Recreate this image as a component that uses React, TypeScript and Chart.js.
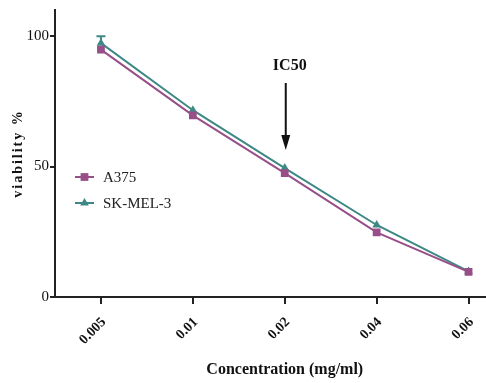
import React, { useEffect, useRef } from "react";
import { Chart, registerables } from "chart.js";

Chart.register(...registerables);

const categories = ["0.005", "0.01", "0.02", "0.04", "0.06"];
const a375 = [94.8, 69.6, 47.5, 24.8, 9.6];
const skmel3 = [97.3, 71.6, 49.4, 27.6, 9.8];
const a375Err = [0, 0, 0, 0, 0];
const skmel3Err = [2.6, 0, 0, 0, 0];
const yTicks = [0, 50, 100];
const seriesNames = ["A375", "SK-MEL-3"];
const colors = ["#984f88", "#3e8985"];
const FONT = "'Liberation Serif', 'Times New Roman', serif";

function drawPointLocal(ctx: CanvasRenderingContext2D, style: string, r: number, cx: number, cy: number, color: string) {
  ctx.fillStyle = color;
  ctx.beginPath();
  if (style === "rect") {
    const s = r * Math.SQRT1_2;
    ctx.rect(cx - s, cy - s, 2 * s, 2 * s);
  } else {
    ctx.moveTo(cx, cy - r);
    ctx.lineTo(cx + r * 0.866, cy + r * 0.5);
    ctx.lineTo(cx - r * 0.866, cy + r * 0.5);
    ctx.closePath();
  }
  ctx.fill();
}

const overlay = {
  id: "overlay",
  afterDatasetsDraw(chart: any) {
    const ctx = chart.ctx;
    const x = chart.scales.x;
    const y = chart.scales.y;
    const ca = chart.chartArea;
    ctx.save();
    // error bars
    const errs = [a375Err, skmel3Err];
    const vals = [a375, skmel3];
    errs.forEach((err, di) => {
      err.forEach((e, i) => {
        if (!e) return;
        const px = x.getPixelForValue(i);
        const py = y.getPixelForValue(vals[di][i]);
        const pt = y.getPixelForValue(vals[di][i] + e);
        ctx.strokeStyle = colors[di];
        ctx.lineWidth = 2;
        ctx.beginPath();
        ctx.moveTo(px, py);
        ctx.lineTo(px, pt);
        ctx.moveTo(px - 4.5, pt);
        ctx.lineTo(px + 4.5, pt);
        ctx.stroke();
      });
    });
    // IC50 annotation
    const ax = x.getPixelForValue(2) + 1;
    ctx.fillStyle = "#111";
    ctx.font = `bold 16px ${FONT}`;
    ctx.textAlign = "center";
    ctx.textBaseline = "middle";
    ctx.fillText("IC50", ax + 4, 66);
    ctx.strokeStyle = "#111";
    ctx.lineWidth = 2;
    ctx.beginPath();
    ctx.moveTo(ax, 83);
    ctx.lineTo(ax, 138);
    ctx.stroke();
    ctx.beginPath();
    ctx.moveTo(ax - 4.5, 135);
    ctx.lineTo(ax + 4.5, 135);
    ctx.lineTo(ax, 150);
    ctx.closePath();
    ctx.fill();
    // legend
    const legY = [177, 203];
    const styles = ["rect", "triangle"];
    const radii = [5.5, 5];
    seriesNames.forEach((name, i) => {
      const ly = legY[i];
      ctx.strokeStyle = colors[i];
      ctx.lineWidth = 2;
      ctx.beginPath();
      ctx.moveTo(75, ly);
      ctx.lineTo(94, ly);
      ctx.stroke();
      drawPointLocal(ctx, styles[i], radii[i], 84.5, ly, colors[i]);
      ctx.fillStyle = "#222";
      ctx.font = `15px ${FONT}`;
      ctx.textAlign = "left";
      ctx.textBaseline = "middle";
      ctx.fillText(name, 103, ly + 1);
    });
    // axis titles
    ctx.fillStyle = "#111";
    ctx.font = `bold 16px ${FONT}`;
    ctx.textAlign = "center";
    ctx.textBaseline = "middle";
    ctx.fillText("Concentration (mg/ml)", (ca.left + ca.right) / 2, 370);
    ctx.save();
    ctx.translate(18, (ca.top + ca.bottom) / 2);
    ctx.rotate(-Math.PI / 2);
    ctx.font = `bold 14px ${FONT}`;
    (ctx as any).letterSpacing = "2px";
    ctx.fillText("viability %", 0, 0);
    ctx.restore();
    ctx.restore();
  },
};

export default function App() {
  const ref = useRef<HTMLCanvasElement>(null);
  useEffect(() => {
    if (!ref.current) return;
    const chart = new Chart(ref.current, {
      type: "line",
      data: {
        labels: categories,
        datasets: [
          {
            label: seriesNames[0],
            data: a375,
            borderColor: colors[0],
            backgroundColor: colors[0],
            borderWidth: 2,
            pointStyle: "rect",
            pointRadius: 5.5,
            pointBorderWidth: 0,
            tension: 0,
          },
          {
            label: seriesNames[1],
            data: skmel3,
            borderColor: colors[1],
            backgroundColor: colors[1],
            borderWidth: 2,
            pointStyle: "triangle",
            pointRadius: 5,
            pointBorderWidth: 0,
            tension: 0,
          },
        ],
      },
      options: {
        responsive: false,
        animation: false,
        layout: { padding: { top: 9, right: 0, left: 0, bottom: 0 } },
        plugins: { legend: { display: false }, tooltip: { enabled: false } },
        scales: {
          x: {
            type: "category",
            offset: true,
            grid: { drawOnChartArea: false, drawTicks: true, tickLength: 7, color: "#222", lineWidth: 2, offset: false },
            border: { display: true, color: "#222", width: 2 },
            ticks: {
              color: "#111",
              font: { family: FONT, size: 14, weight: "bold" },
              minRotation: 45,
              maxRotation: 45,
              padding: 10,
              labelOffset: 3,
            },
            afterFit: (s: any) => {
              s.height = 86;
            },
          },
          y: {
            min: 0,
            max: 110,
            afterBuildTicks: (s: any) => {
              s.ticks = yTicks.map((v) => ({ value: v }));
            },
            grid: { drawOnChartArea: false, drawTicks: true, tickLength: 5, color: "#222", lineWidth: 2 },
            border: { display: true, color: "#222", width: 2 },
            ticks: {
              color: "#111",
              font: { family: FONT, size: 15 },
              padding: 1,
            },
            afterFit: (s: any) => {
              s.width = 55;
            },
          },
        },
      },
      plugins: [overlay],
    } as any);
    return () => chart.destroy();
  }, []);
  return (
    <div style={{ position: "absolute", left: 0, top: 0, width: 486, height: 383, overflow: "hidden", background: "#fff" }}>
      <canvas ref={ref} width={520} height={383} />
    </div>
  );
}
